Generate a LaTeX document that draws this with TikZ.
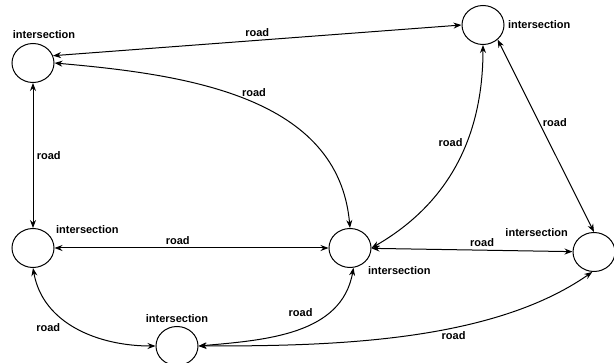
\documentclass[tikz,border=0pt]{standalone}
\usepackage{fontspec}
\setmainfont{Liberation Sans}
\usetikzlibrary{arrows.meta,shapes.geometric}

\begin{document}
\begin{tikzpicture}[x=1pt, y=-1pt,
        junction/.style={ellipse, draw, line width=1pt, minimum width=42pt, minimum height=39pt, inner sep=0pt},
        road/.style={{Stealth[length=8pt,width=6pt]}-{Stealth[length=8pt,width=6pt]}, line width=1pt},
        tag/.style={font=\fontsize{11}{13}\selectfont\bfseries},
        every label/.style={tag}
    ]
        \useasboundingbox (0,0) rectangle (614,363);

        \node[junction, label={[xshift=11pt,yshift=1pt]above:intersection}] (nw) at (33,63) {};
        \node[junction, label={right:intersection}] (ne) at (483,25) {};
        \node[junction, label={[xshift=5pt,yshift=-4pt]above right:intersection}] (w) at (33,248) {};
        \node[junction, label={below right:intersection}] (ctr) at (350,248) {};
        \node[junction, label={[xshift=-8pt,yshift=-3pt]above left:intersection}] (e) at (594,252) {};
        \node[junction, label={above:intersection}] (s) at (177,346) {};

        \draw[road] (nw.20) -- node[tag, above] {road} (ne.west);
        \draw[road] (nw.east) to[out=-5,in=95] node[tag, pos=0.52, above, yshift=3pt] {road} (ctr.north);
        \draw[road] (nw) -- node[tag, right] {road} (w);
        \draw[road] (w) -- node[tag, pos=0.45, above] {road} (ctr);
        \draw[road] (w.south) to[out=-80,in=180] node[tag, pos=0.4, below left] {road} (s.west);
        \draw[road] (s.east) to[out=5,in=-100] node[tag, pos=0.62, above left] {road} (ctr.-80);
        \draw[road] (s.east) to[out=0,in=-145,looseness=0.8] node[tag, pos=0.62, below] {road} (e.-95);
        \draw[road] (ctr.east) to[out=30,in=-90] node[tag, pos=0.6, left] {road} (ne.south);
        \draw[road] (ne.-45) -- node[tag, pos=0.43, right] {road} (e.north);
        \draw[road] (ctr) -- node[tag, pos=0.55, above] {road} (e);
    \end{tikzpicture}
\end{document}
